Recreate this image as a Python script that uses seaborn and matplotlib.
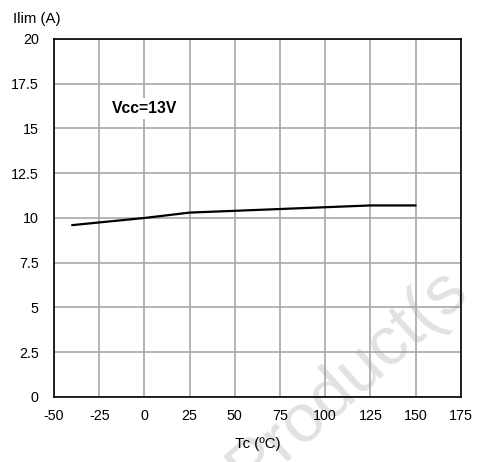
import matplotlib
matplotlib.use("Agg")
import matplotlib.pyplot as plt
import seaborn as sns
import pandas as pd

temps = [-40, 0, 25, 125, 150]
ilim = [9.6, 10.0, 10.3, 10.7, 10.7]
x_ticks = [-50, -25, 0, 25, 50, 75, 100, 125, 150, 175]
y_ticks = [0, 2.5, 5, 7.5, 10, 12.5, 15, 17.5, 20]
y_tick_labels = ["0", "2.5", "5", "7.5", "10", "12.5", "15", "17.5", "20"]

sns.set_theme(style="white")
plt.rcParams['font.family'] = ['Liberation Sans', 'DejaVu Sans']

fig = plt.figure(figsize=(4.78, 4.62), dpi=100)
ax = fig.add_axes([0.113, 0.1407, 0.851, 0.775])
ax.patch.set_alpha(0)

df = pd.DataFrame({"Tc": temps, "Ilim": ilim})
sns.lineplot(data=df, x="Tc", y="Ilim", ax=ax, color="black", linewidth=1.6, zorder=3)

ax.set_xlim(-50, 175)
ax.set_ylim(0, 20)
ax.set_xticks(x_ticks)
ax.set_xticklabels([str(t) for t in x_ticks])
ax.set_yticks(y_ticks)
ax.set_yticklabels(y_tick_labels)
ax.grid(True, color="#a8a8a8", linewidth=1.2)
ax.set_axisbelow(True)
for s in ax.spines.values():
    s.set_color("black")
    s.set_linewidth(1.2)
ax.tick_params(axis="both", length=0, labelsize=10.3, colors="black")
ax.tick_params(axis="y", pad=11)
ax.tick_params(axis="x", pad=9)
ax.set_xlabel("Tc (ºC)", fontsize=10.8, color="black", labelpad=10)
ax.set_ylabel("")
fig.text(0.027, 0.958, "Ilim (A)", fontsize=10.8, color="black", ha="left", va="center")

ax.text(0, 16.1, "Vcc=13V", fontsize=11.3, fontweight="bold", ha="center", va="center",
        color="black", bbox=dict(facecolor="white", edgecolor="none", pad=2), zorder=4)

fig.text(0.52, -0.065, "Product(s", fontsize=50, color="#e2e2e2", rotation=42,
         ha="left", va="baseline", zorder=-1, rotation_mode="anchor")

fig.savefig("out.png", dpi=100, facecolor="white")
